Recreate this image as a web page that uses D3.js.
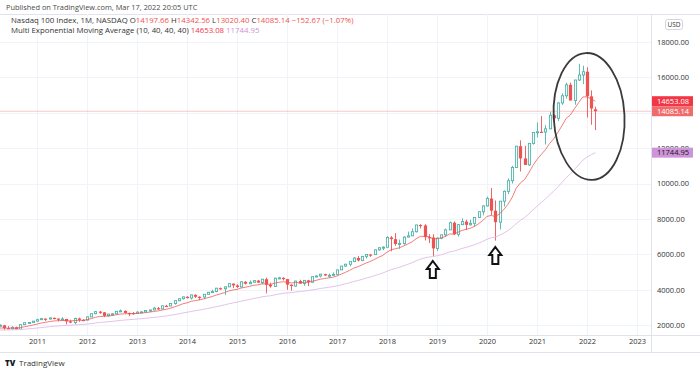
<!DOCTYPE html>
<html><head><meta charset="utf-8">
<script src="https://cdn.jsdelivr.net/npm/d3@7"></script>
<style>
body{margin:0;background:#fff;}
svg text{font-family:"Open Sans",sans-serif;}
</style></head><body>
<svg id="chart" width="700" height="373"></svg>
<script>
// ---- DATA (monthly NASDAQ 100, Apr 2010 .. Mar 2022) ----
const firstMonth = "2010-04";
const open = [1955,1983,1819,1784,1872,1759,2023,2130,2140,
2218,2300,2360,2338,2404,2365,2297,2340,2204,2140,2370,2290,
2278,2458,2638,2755,2715,2520,2616,2632,2772,2800,2680,2677,
2661,2731,2739,2819,2848,2951,2910,3084,3074,3218,3374,3487,
3592,3521,3700,3596,3580,3736,3850,3891,4083,4050,4158,4337,
4236,4151,4442,4333,4415,4509,4397,4589,4274,4182,4648,4665,
4593,4280,4202,4484,4341,4524,4418,4731,4772,4875,4801,4810,
4864,5117,5330,5436,5584,5788,5647,5880,5988,5979,6248,6367,
6397,6950,6855,6581,6605,6968,7040,7272,7657,7628,6967,6949,
6330,6907,7097,7378,7782,7127,7672,7848,7663,7750,8083,8403,
8733,9151,8462,7813,9000,9556,10157,10905,12110,11418,11052,12268,
12888,12925,12909,13091,13861,13687,14554,14960,15582,14690,15850,16135,
16320,14930,14197.66];
const high = [2040,2005,1940,1925,1905,2030,2140,2175,2230,
2355,2400,2370,2420,2425,2370,2440,2350,2300,2415,2420,2330,
2470,2640,2795,2795,2730,2630,2680,2790,2880,2820,2700,2740,
2760,2780,2830,2860,3025,3020,3090,3140,3240,3400,3490,3600,
3630,3720,3740,3620,3750,3860,3990,4090,4120,4170,4340,4350,
4300,4460,4480,4520,4530,4550,4600,4680,4390,4660,4720,4700,
4600,4290,4500,4560,4530,4550,4740,4800,4890,4900,4910,4970,
5120,5340,5460,5600,5830,5900,5900,6000,6000,6260,6400,6450,
7020,7030,7190,6830,7010,7280,7460,7660,7700,7700,7130,7130,
6950,7100,7450,7850,7850,7700,8030,7950,7950,8100,8420,8750,
9260,9740,9040,9010,9610,10290,11000,12120,12440,12130,12290,12900,
13450,13810,13300,14060,13900,14590,15100,15700,15700,15860,16765,16660,
16570,15265,14342.56];
const low = [1930,1700,1770,1730,1750,1758,1995,2080,2135,
2210,2290,2220,2310,2320,2210,2290,2035,2100,2040,2180,2210,
2270,2450,2610,2625,2445,2470,2530,2620,2760,2650,2500,2590,
2660,2700,2720,2745,2840,2850,2900,3030,3070,3150,3350,3440,
3500,3440,3530,3410,3480,3720,3850,3850,3990,3700,4150,4090,
4090,4130,4290,4310,4410,4390,4300,3790,4110,4150,4590,4520,
3990,3940,4170,4330,4210,4200,4410,4700,4690,4780,4670,4790,
4860,5110,5300,5320,5580,5590,5610,5760,5850,5980,6200,6230,
6400,6170,6480,6310,6540,6960,7040,7230,7460,6780,6630,5895,
6190,6850,6990,7370,7090,7000,7670,7370,7630,7550,8080,8200,
8700,8220,6771,7400,8700,9400,10000,10900,10680,11050,11000,12200,
12610,12900,12210,13080,12970,13530,14450,14800,14700,14450,15800,15620,
13725,13322,13020.40];
const close = [1983,1819,1784,1872,1759,2023,2130,2140,2218,
2300,2360,2338,2404,2365,2297,2340,2204,2140,2370,2290,2278,
2458,2638,2755,2715,2520,2616,2632,2772,2800,2680,2677,2661,
2731,2739,2819,2848,2951,2910,3084,3074,3218,3374,3487,3592,
3521,3700,3596,3580,3736,3850,3891,4083,4050,4158,4337,4236,
4151,4442,4333,4415,4509,4397,4589,4274,4182,4648,4665,4593,
4280,4202,4484,4341,4524,4418,4731,4772,4875,4801,4810,4864,
5117,5330,5436,5584,5788,5647,5880,5988,5979,6248,6367,6397,
6950,6855,6581,6605,6968,7040,7272,7657,7628,6967,6949,6330,
6907,7097,7378,7782,7127,7672,7848,7663,7750,8083,8403,8733,
9151,8462,7813,9000,9556,10157,10905,12110,11418,11052,12268,12888,
12925,12909,13091,13861,13687,14554,14960,15582,14690,15850,16135,16320,
14930,14237,14085.14];
const ema10 = [1830,1828,1820,1830,1817,1854,1904,1947,1996,
2052,2108,2150,2196,2227,2239,2258,2248,2228,2254,2261,2264,
2299,2361,2432,2484,2490,2513,2535,2578,2618,2630,2638,2642,
2658,2673,2700,2727,2767,2793,2846,2888,2948,3025,3109,3197,
3256,3337,3384,3420,3477,3545,3608,3694,3759,3831,3923,3980,
4011,4090,4134,4185,4244,4272,4329,4319,4294,4359,4414,4447,
4417,4378,4397,4387,4412,4413,4471,4526,4589,4628,4661,4698,
4774,4875,4977,5087,5215,5293,5400,5507,5593,5712,5831,5934,
6119,6253,6312,6365,6475,6578,6704,6877,7014,7005,6995,6874,
6880,6920,7003,7145,7141,7238,7349,7406,7469,7580,7730,7912,
8137,8196,8127,8286,8517,8815,9195,9725,10033,10218,10591,11008,
11357,11639,11903,12259,12519,12889,13265,13687,13869,14229,14576,14893,
14900,14779,14653.08];
const ema40 = [1715,1720,1723,1731,1732,1746,1765,1783,1804,
1829,1854,1878,1904,1926,1944,1964,1975,1983,2002,2016,2029,
2050,2079,2112,2141,2160,2182,2204,2232,2259,2280,2299,2317,
2337,2357,2379,2402,2429,2452,2483,2512,2546,2587,2631,2678,
2719,2767,2807,2845,2888,2935,2982,3036,3085,3137,3196,3247,
3291,3347,3395,3445,3497,3541,3592,3625,3652,3701,3748,3789,
3813,3832,3864,3887,3918,3943,3981,4020,4061,4097,4132,4168,
4214,4269,4326,4387,4455,4513,4580,4649,4714,4788,4865,4940,
5038,5127,5198,5266,5349,5432,5522,5626,5724,5784,5841,5865,
5916,5973,6042,6127,6176,6249,6327,6392,6458,6537,6628,6731,
6849,6928,6971,7070,7191,7336,7510,7734,7914,8067,8272,8497,
8713,8918,9122,9353,9564,9808,10059,10328,10541,10800,11060,11317,
11493,11627,11744.95];
const yearTicks = [2011,2012,2013,2014,2015,2016,2017,2018,2019,2020,2021,2022,2023];
const priceTicks = [2000,4000,6000,8000,10000,12000,14000,16000,18000];
const priceTickLabels = ["2000.00","4000.00","6000.00","8000.00","10000.00","12000.00","","16000.00","18000.00"]; // 14000 hidden behind price tags
const arrowMarks = [{date:"2018-12", value:5618},{date:"2020-03", value:6410}];
const circleMark = {from:"2021-05", to:"2022-10", top:17380, bottom:10200};

// ---- SETUP ----
const svg = d3.select("#chart");
const plotL = 0, plotR = 651, plotT = 14, plotB = 335;
const mIndex = s => { const [yy,mm] = s.split("-").map(Number); return (yy-2011)*12 + (mm-1); };
const start = mIndex(firstMonth);
const data = close.map((c,k)=>({i:start+k, o:open[k], h:high[k], l:low[k], c:c, e10:ema10[k], e40:ema40[k]}));
const x = d3.scaleLinear().domain([0,144]).range([37,637]);
const y = d3.scaleLinear().domain([2000,18000]).range([325,42]);

svg.append("defs").append("clipPath").attr("id","plotclip")
  .append("rect").attr("x",plotL).attr("y",plotT).attr("width",plotR-plotL).attr("height",plotB-plotT);

// frame
const frame = svg.append("g");
frame.append("line").attr("x1",0).attr("x2",700).attr("y1",14.5).attr("y2",14.5).attr("stroke","#e0e3eb");
frame.append("line").attr("x1",0).attr("x2",700).attr("y1",335.5).attr("y2",335.5).attr("stroke","#e0e3eb");
frame.append("line").attr("x1",0).attr("x2",700).attr("y1",352.5).attr("y2",352.5).attr("stroke","#e0e3eb");
frame.append("line").attr("x1",651.5).attr("x2",651.5).attr("y1",14).attr("y2",352).attr("stroke","#e0e3eb");

const plot = svg.append("g").attr("clip-path","url(#plotclip)");
// grid
plot.append("g").selectAll("line").data(yearTicks).join("line")
  .attr("x1",d=>Math.round(x((d-2011)*12))+0.5).attr("x2",d=>Math.round(x((d-2011)*12))+0.5)
  .attr("y1",plotT).attr("y2",plotB).attr("stroke","#f0f3fa");
plot.append("g").selectAll("line").data(priceTicks).join("line")
  .attr("x1",plotL).attr("x2",plotR)
  .attr("y1",d=>Math.round(y(d))+0.5).attr("y2",d=>Math.round(y(d))+0.5).attr("stroke","#f0f3fa");

// last price line
plot.append("line").attr("x1",plotL).attr("x2",plotR)
  .attr("y1",y(close[close.length-1])).attr("y2",y(close[close.length-1]))
  .attr("stroke","#f29a9a").attr("stroke-opacity",0.55).attr("stroke-width",1.2);

// candles
const UP = "#4fb3a8", DN = "#ec5454";
const cg = plot.append("g");
data.forEach(d=>{
  const cx = Math.round(x(d.i));
  const up = d.c >= d.o;
  const col = up ? UP : DN;
  cg.append("line").attr("x1",cx+0.5).attr("x2",cx+0.5).attr("y1",y(d.h)).attr("y2",y(d.l)).attr("stroke",col).attr("stroke-width",0.9);
  const top = y(Math.max(d.o,d.c)), bot = y(Math.min(d.o,d.c));
  if(up){
    cg.append("rect").attr("x",cx-0.6).attr("y",top).attr("width",2.2).attr("height",Math.max(bot-top,1))
      .attr("fill","#fff").attr("stroke",col).attr("stroke-width",0.9);
  } else {
    cg.append("rect").attr("x",cx-1.1).attr("y",top).attr("width",3.2).attr("height",Math.max(bot-top,1.2))
      .attr("fill",col);
  }
});

// EMAs
const line = key => d3.line().x(d=>x(d.i)).y(d=>y(d[key]));
plot.append("path").datum(data).attr("d",line("e40")).attr("fill","none").attr("stroke","#e4c3ea").attr("stroke-width",1);
plot.append("path").datum(data).attr("d",line("e10")).attr("fill","none").attr("stroke","#ef5350").attr("stroke-width",0.9).attr("opacity",0.85);

// annotations
const cx0 = (x(mIndex(circleMark.from))+x(mIndex(circleMark.to)))/2;
const rx = (x(mIndex(circleMark.to))-x(mIndex(circleMark.from)))/2;
const cy0 = (y(circleMark.top)+y(circleMark.bottom))/2;
const ry = (y(circleMark.bottom)-y(circleMark.top))/2;
svg.append("ellipse").attr("cx",cx0).attr("cy",cy0).attr("rx",rx).attr("ry",ry)
  .attr("transform",`rotate(-3 ${cx0} ${cy0})`)
  .attr("fill","none").attr("stroke","#3a3a3a").attr("stroke-width",1.8);
const arrowPath = "M0,0 L6,8 L3,8 L3,17 L-3,17 L-3,8 L-6,8 Z";
svg.append("g").selectAll("path").data(arrowMarks).join("path")
  .attr("transform",d=>`translate(${x(mIndex(d.date))},${y(d.value)})`)
  .attr("d",arrowPath).attr("fill","#fff").attr("stroke","#111").attr("stroke-width",2).attr("stroke-linejoin","miter");

// right axis
const yAxis = d3.axisRight(y).tickValues(priceTicks).tickSize(0).tickPadding(0)
  .tickFormat((d,k)=>priceTickLabels[k]);
const ya = svg.append("g").attr("transform","translate(657,0)").call(yAxis);
ya.select(".domain").remove();
ya.selectAll("text").attr("font-size","7.5px").attr("fill","#333").attr("font-family","Open Sans, sans-serif");

// price labels
const plabels = [
  {v:ema10[ema10.length-1], bg:"#f23645", fg:"#fff"},
  {v:close[close.length-1], bg:"#f06b6b", fg:"#fff"},
  {v:ema40[ema40.length-1], bg:"#ce93d8", fg:"#131722"}
];
const pl = svg.append("g").selectAll("g").data(plabels).join("g")
  .attr("transform",d=>`translate(652,${y(d.v)})`);
pl.append("rect").attr("x",0).attr("y",-5).attr("width",41).attr("height",10).attr("fill",d=>d.bg);
pl.append("text").attr("x",5).attr("y",2.7).attr("font-size","7.5px").attr("fill",d=>d.fg).text(d=>d3.format(".2f")(d.v));

// USD box
svg.append("rect").attr("x",665.5).attr("y",19.5).attr("width",17).attr("height",10).attr("rx",2).attr("fill","#fff").attr("stroke","#d1d4dc");
svg.append("text").attr("x",674).attr("y",27).attr("text-anchor","middle").attr("font-size","6.5px").attr("fill","#333").text("USD");

// bottom axis
const xAxis = d3.axisBottom(x).tickValues(yearTicks.map(t=>(t-2011)*12)).tickSize(0).tickPadding(0)
  .tickFormat((d,k)=>String(yearTicks[k]));
const xa = svg.append("g").attr("transform","translate(0,339)").call(xAxis);
xa.select(".domain").remove();
xa.selectAll("text").attr("font-size","7.5px").attr("fill","#333").attr("font-family","Open Sans, sans-serif");

// header
svg.append("text").attr("x",6).attr("y",10).attr("font-size","7.4px").attr("fill","#4a4a4a")
  .text("Published on TradingView.com, Mar 17, 2022 20:05 UTC");
const RED = "#ef5350";
const l1 = svg.append("text").attr("x",11).attr("y",23).attr("font-size","7.8px").attr("fill","#333");
[["Nasdaq 100 Index, 1M, NASDAQ O","#333"],["14197.66",RED],[" H","#333"],["14342.56",RED],[" L","#333"],["13020.40",RED],
 [" C","#333"],["14085.14",RED],[" \u2212152.67 (\u22121.07%)",RED]].forEach(([t,c])=>l1.append("tspan").attr("fill",c).text(t));
const l2 = svg.append("text").attr("x",11).attr("y",33).attr("font-size","7.8px").attr("fill","#333");
[["Multi Exponential Moving Average (10, 40, 40, 40) ","#333"],["14653.08","#f23645"],[" 11744.95","#ce93d8"]]
  .forEach(([t,c])=>l2.append("tspan").attr("fill",c).text(t));
svg.selectAll("text").attr("xml:space","preserve");

// logo
svg.append("text").attr("x",5).attr("y",366).attr("font-size","8px").attr("font-weight","900").attr("fill","#131722").text("TV");
svg.append("text").attr("x",19).attr("y",366).attr("font-size","8px").attr("fill","#333").text("TradingView");
</script>
</body></html>
